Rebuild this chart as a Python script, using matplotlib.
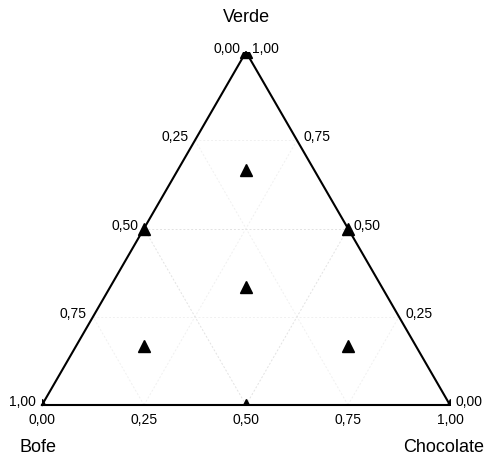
import numpy as np
import matplotlib
matplotlib.use("Agg")
import matplotlib.pyplot as plt

plt.rcParams['font.family'] = ['Liberation Sans', 'DejaVu Sans']

# ---- data : mistura (proporcoes Bofe / Chocolate / Verde) ----
bofe      = [1.0, 0.0, 0.0, 0.5, 0.5, 0.0, 1/3, 2/3, 1/6, 1/6]
chocolate = [0.0, 1.0, 0.0, 0.5, 0.0, 0.5, 1/3, 1/6, 2/3, 1/6]
verde     = [0.0, 0.0, 1.0, 0.0, 0.5, 0.5, 1/3, 1/6, 1/6, 2/3]

tick_values = [0.0, 0.25, 0.5, 0.75, 1.0]
grid_levels = [0.25, 0.5, 0.75]
component_names = ["Bofe", "Chocolate", "Verde"]

H = np.sqrt(3) / 2


def tern2xy(b, c, v):
    b = np.asarray(b, float); c = np.asarray(c, float); v = np.asarray(v, float)
    s = b + c + v
    return (c + v / 2) / s, (v * H) / s


def fmt(t):
    return f"{t:.2f}".replace('.', ',')


fig = plt.figure(figsize=(4.84, 4.57), dpi=100)
ax = fig.add_axes([42 / 484, 52 / 457, 408 / 484, 353 / 457])
ax.set_xlim(0, 1)
ax.set_ylim(0, H)
ax.axis('off')

#--- grid (pontilhado bem claro) ---#
for t in grid_levels:
    col = '#e2e2e2' if t == 0.5 else '#f0f0f0'
    segs = [((1 - t, 0, t), (0, 1 - t, t)),     # verde constante
            ((1 - t, t, 0), (0, t, 1 - t)),     # chocolate constante
            ((t, 1 - t, 0), (t, 0, 1 - t))]     # bofe constante
    for p0, p1 in segs:
        x0, y0 = tern2xy(*p0)
        x1, y1 = tern2xy(*p1)
        ax.plot([x0, x1], [y0, y1], ls=(0, (2, 2)), lw=0.7, color=col, zorder=1)

#--- bordas do triangulo ---#
vx, vy = tern2xy([1, 0, 0, 1], [0, 1, 0, 0], [0, 0, 1, 0])
ax.plot(vx, vy, color='black', lw=1.5, clip_on=False, zorder=2)

#--- pontos ---#
px, py = tern2xy(bofe, chocolate, verde)
ax.plot(px, py, ls='none', marker='^', ms=8.3, color='black', zorder=3)

#--- rotulos dos eixos ---#
for t in tick_values:
    # lado esquerdo : Bofe
    x, y = tern2xy(t, 0, 1 - t)
    ax.annotate(fmt(t), (x, y), xytext=(-6, 3), textcoords='offset pixels',
                ha='right', va='center', fontsize=10, annotation_clip=False)
    # lado direito : Verde
    x, y = tern2xy(0, 1 - t, t)
    ax.annotate(fmt(t), (x, y), xytext=(6, 3), textcoords='offset pixels',
                ha='left', va='center', fontsize=10, annotation_clip=False)
    # base : Chocolate
    x, y = tern2xy(1 - t, t, 0)
    ax.annotate(fmt(t), (x, y), xytext=(0, -15), textcoords='offset pixels',
                ha='center', va='center', fontsize=10, annotation_clip=False)

#--- nomes dos componentes ---#
x, y = tern2xy(0, 0, 1)
ax.annotate(component_names[2], (x, y), xytext=(0, 34), textcoords='offset pixels',
            ha='center', va='center', fontsize=13, annotation_clip=False)
x, y = tern2xy(1, 0, 0)
ax.annotate(component_names[0], (x, y), xytext=(-4, -42), textcoords='offset pixels',
            ha='center', va='center', fontsize=13, annotation_clip=False)
x, y = tern2xy(0, 1, 0)
ax.annotate(component_names[1], (x, y), xytext=(-6, -42), textcoords='offset pixels',
            ha='center', va='center', fontsize=13, annotation_clip=False)

fig.savefig("out.png", dpi=100)
